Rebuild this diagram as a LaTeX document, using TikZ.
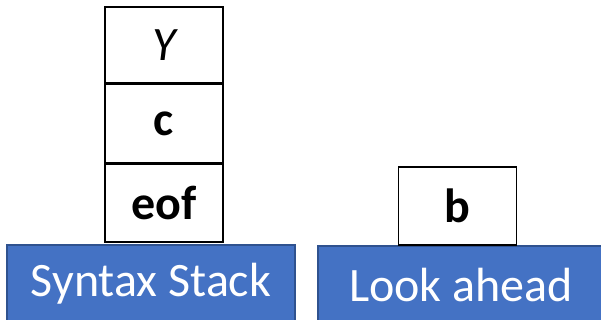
\documentclass[tikz,border=0pt]{standalone}
\usepackage{fontspec}
\setmainfont{Carlito}
\usepackage{tikz}
\usetikzlibrary{positioning}
\definecolor{barblue}{HTML}{4472C4}
\definecolor{bardark}{HTML}{2F528F}

\begin{document}
\begin{tikzpicture}[
  x=1pt, y=1pt,
  cell/.style={draw, line width=1.6pt, minimum width=118pt, minimum height=78pt, inner sep=0pt, font=\fontsize{48}{56}\selectfont},
  bar/.style={draw=bardark, line width=1.2pt, fill=barblue, text=white, minimum height=78pt, inner sep=0pt, font=\fontsize{48}{56}\selectfont}
]
\useasboundingbox (0,0) rectangle (601,320);
\node[bar, minimum width=288pt] (stackbar) at (151,36) {Syntax Stack};
\node[bar, minimum width=286pt] (aheadbar) at (461,35) {Look ahead};

\node[cell] (eof) at (164,117) {\bfseries eof};
\node[cell, above=0pt of eof] (c) {\bfseries c};
\node[cell, above=0pt of c, minimum height=76pt] (top) {\itshape Y};

\node[cell] (b) at (457.5,114) {\bfseries b};
\end{tikzpicture}
\end{document}
